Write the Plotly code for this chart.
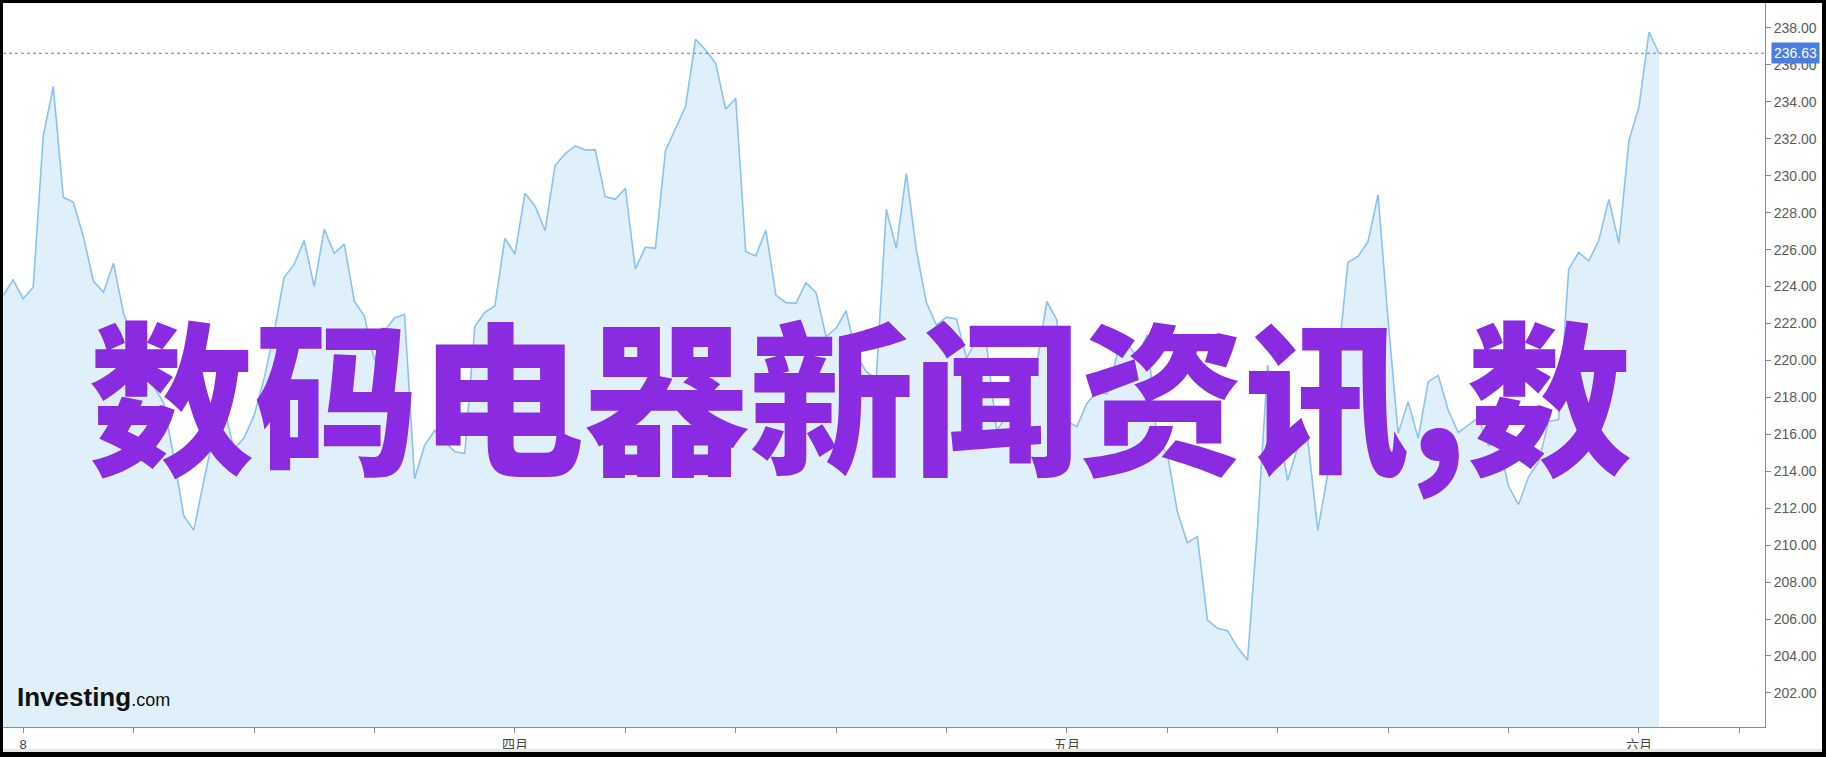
import plotly.graph_objects as go

# ---- data ----
prices = [
    223.5, 224.36, 223.34, 223.96, 232.15, 234.82, 228.83, 228.56, 226.7, 224.3,
    223.69, 225.26, 222.55, 221.0, 219.2, 218.6, 217.7, 214.8, 211.6, 210.8,
    213.5, 216.0, 217.5, 215.2, 215.8, 217.0, 219.0, 221.5, 224.5, 225.2,
    226.5, 224.0, 227.1, 225.8, 226.3, 223.2, 222.4, 220.0, 221.6, 222.3,
    222.5, 213.6, 215.4, 216.2, 215.6, 215.06, 214.97, 221.83, 222.61, 222.95,
    226.61, 225.76, 229.05, 228.36, 227.03, 230.55, 231.18, 231.61, 231.4, 231.4,
    228.87, 228.72, 229.32, 224.94, 226.13, 226.07, 231.36, 232.57, 233.74, 237.39,
    236.81, 236.09, 233.6, 234.19, 225.89, 225.66, 227.06, 223.54, 223.13, 223.09,
    224.21, 223.67, 221.29, 221.74, 222.69, 220.3, 219.4, 219.0, 228.18, 226.07,
    230.13, 225.98, 223.13, 221.92, 222.34, 222.25, 220.12, 221.11, 220.8, 216.2,
    217.0, 218.0, 218.8, 219.8, 223.19, 222.19, 216.69, 216.42, 217.68, 218.31,
    218.18, 220.3, 220.9, 220.2, 221.38, 215.6, 215.0, 211.82, 210.13, 210.46,
    205.95, 205.5, 205.37, 204.47, 203.78, 211.0, 219.75, 216.6, 213.5, 215.3,
    215.7, 210.8, 213.9, 219.9, 225.3, 225.63, 226.43, 228.96, 222.2, 216.05,
    217.77, 215.78, 218.85, 219.2, 217.3, 216.1, 216.5, 216.9, 215.4, 215.6,
    213.2, 212.2, 213.7, 214.5, 216.7, 216.8, 224.94, 225.84, 225.38, 226.49,
    228.72, 226.34, 231.9, 233.71, 237.77, 236.63,
]
bar_index = list(range(len(prices)))

tick_positions = [2, 13, 25, 37, 51, 62, 73, 83, 94, 106, 116, 127, 138, 150, 163, 173]
tick_labels = ["8", "", "", "", "四月", "", "", "", "", "五月", "", "", "", "", "六月", ""]

y_ticks = [202 + 2 * k for k in range(19)]
last_price = 236.63
overlay_title = "数码电器新闻资讯,数"

# ---- figure ----
fig = go.Figure()
fig.add_trace(go.Scatter(
    x=bar_index, y=prices, mode="lines",
    line=dict(color="#8cc2ee", width=1.6),
    fill="tozeroy", fillcolor="#e0f0fa",
    hoverinfo="skip", showlegend=False,
))

W, H = 1826, 757
L, R, T, B = 3, 61, 3, 30
pw, ph = W - L - R, H - T - B


def px2paper_x(px):
    return (px - L) / pw


def px2paper_y(py):
    return (H - B - py) / ph


shapes = [
    # last-price dotted line
    dict(type="line", xref="paper", yref="y", x0=0, x1=1, y0=last_price, y1=last_price,
         line=dict(color="#4f7fe3", width=1, dash="dot")),
    # frame of the screenshot
    dict(type="rect", xref="paper", yref="paper", x0=-0.05, x1=1.1,
         y0=px2paper_y(3), y1=1.1, fillcolor="black", line=dict(width=0)),
    dict(type="rect", xref="paper", yref="paper", x0=-0.05, x1=px2paper_x(3),
         y0=-0.2, y1=1.1, fillcolor="black", line=dict(width=0)),
    dict(type="rect", xref="paper", yref="paper", x0=px2paper_x(1822), x1=1.1,
         y0=-0.2, y1=1.1, fillcolor="black", line=dict(width=0)),
    dict(type="rect", xref="paper", yref="paper", x0=px2paper_x(3), x1=px2paper_x(1822),
         y0=px2paper_y(752), y1=px2paper_y(749), fillcolor="#e6e6e6", line=dict(width=0)),
    dict(type="rect", xref="paper", yref="paper", x0=-0.05, x1=1.1,
         y0=-0.2, y1=px2paper_y(752), fillcolor="black", line=dict(width=0)),
]

annotations = [
    dict(xref="paper", yref="y", x=1, y=last_price, xanchor="left", yanchor="middle",
         xshift=6, text="236.63", showarrow=False, bgcolor="#4a7de2", borderpad=2,
         font=dict(family="Liberation Sans, Arial", size=14, color="white")),
    dict(xref="paper", yref="paper", x=px2paper_x(860), y=px2paper_y(390),
         xanchor="center", yanchor="middle", text=overlay_title, showarrow=False,
         font=dict(family="Noto Sans CJK SC", size=165, color="#8a2be2", weight=900)),
    dict(xref="paper", yref="paper", x=px2paper_x(15), y=px2paper_y(697),
         xanchor="left", yanchor="middle", showarrow=False,
         text="<b>Investing</b><span style='font-size:18px'>.com</span>",
         font=dict(family="Liberation Sans, Arial", size=26, color="#111111")),
]

fig.update_layout(
    width=W, height=H,
    margin=dict(l=L, r=R, t=T, b=B, pad=0),
    paper_bgcolor="white", plot_bgcolor="white",
    shapes=shapes, annotations=annotations,
    xaxis=dict(
        range=[-0.01, 175.56], showgrid=False, zeroline=False,
        showline=True, linecolor="#8c8c8c", linewidth=1,
        tickmode="array", tickvals=tick_positions, ticktext=tick_labels,
        ticks="outside", ticklen=5, tickcolor="#8c8c8c",
        tickfont=dict(family="Liberation Sans, Noto Sans CJK SC", size=13, color="#444444"),
    ),
    yaxis=dict(
        range=[200.155, 239.35], side="right", showgrid=False, zeroline=False,
        showline=True, linecolor="#8c8c8c", linewidth=1,
        tickmode="array", tickvals=y_ticks, tickformat=".2f",
        ticks="outside", ticklen=5, tickcolor="#8c8c8c",
        tickfont=dict(family="Liberation Sans, Arial", size=14, color="#5a5a5a"),
    ),
)

fig.write_html("out.html", config={"displayModeBar": False},
               post_script="document.body.style.margin='0px';")
